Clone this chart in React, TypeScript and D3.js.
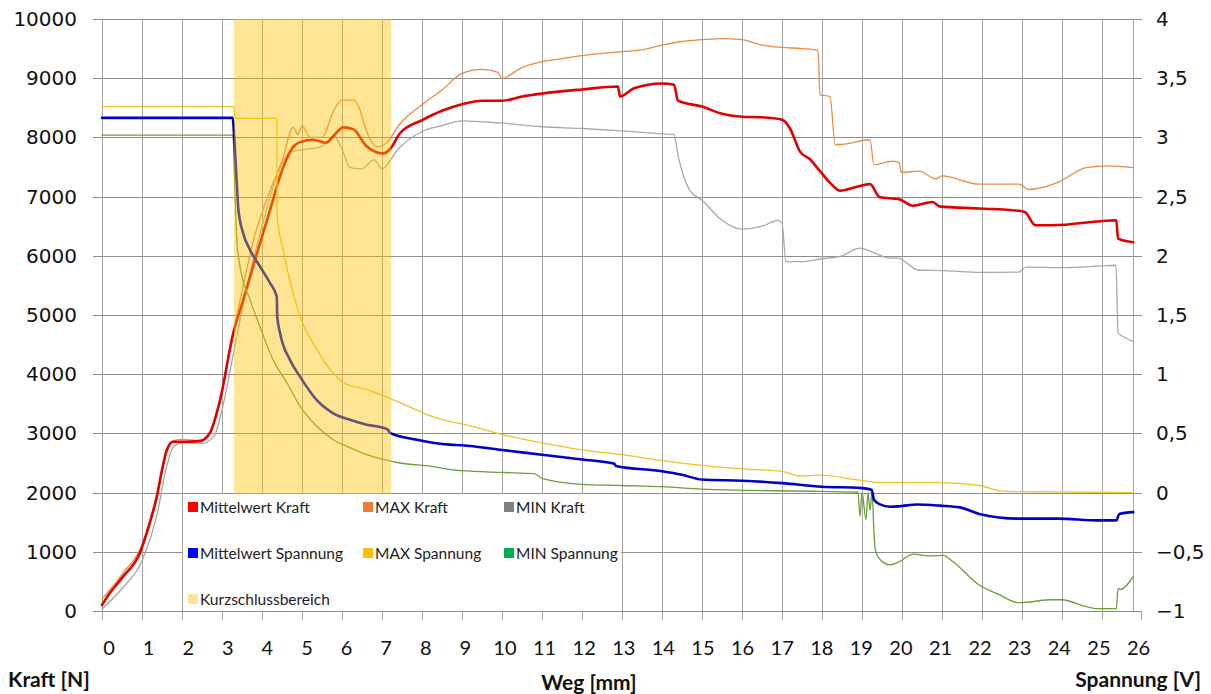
import React from "react";
import * as d3 from "d3";

type Pt = [number, number];

// Weg [mm] vs Kraft [N]
const mittelwertKraft: Pt[] = [
  [0, 100], [0.12, 230], [0.5, 560], [0.95, 985], [1.2, 1500], [1.37, 1930], [1.5, 2380], [1.62, 2720],
  [1.78, 2860], [2.03, 2860], [2.45, 2870], [2.7, 3010], [2.95, 3560], [3.28, 4690], [3.53, 5250],
  [3.9, 6100], [4.2, 6770], [4.5, 7440], [4.78, 7840], [4.95, 7920], [5.28, 7960], [5.6, 7910],
  [5.78, 8020], [6.03, 8170], [6.28, 8140], [6.6, 7860], [7.03, 7730], [7.2, 7800], [7.45, 8070],
  [8, 8290], [8.5, 8450], [9, 8560], [9.5, 8620], [10, 8620], [10.5, 8690], [11, 8740], [12, 8810],
  [12.9, 8860], [12.95, 8690], [13.3, 8830], [14, 8910], [14.3, 8890], [14.4, 8620], [15, 8520],
  [15.5, 8400], [16, 8350], [16.5, 8340], [17, 8300], [17.2, 8150], [17.45, 7760], [17.7, 7630],
  [17.95, 7430], [18.28, 7180], [18.45, 7100], [18.95, 7180], [19.2, 7210], [19.44, 6990],
  [19.93, 6955], [20.27, 6845], [20.77, 6910], [20.93, 6835], [21.93, 6800], [22.92, 6760],
  [23.08, 6735], [23.33, 6515], [23.75, 6515], [25.36, 6600], [25.4, 6290], [25.78, 6230],
];

const maxKraft: Pt[] = [
  [0, 200], [0.5, 620], [1, 1120], [1.4, 2050], [1.6, 2650], [1.8, 2880], [2, 2900], [2.4, 2880],
  [2.65, 2980], [2.9, 3400], [3.2, 4400], [3.5, 5400], [3.8, 6300], [4.2, 7100], [4.5, 7600],
  [4.78, 8170], [4.9, 8050], [5.0, 8200], [5.2, 8000], [5.5, 8000], [5.8, 8460], [6.0, 8630],
  [6.3, 8630], [6.45, 8460], [6.6, 8130], [6.9, 7840], [7.1, 7900], [7.45, 8230], [8, 8550],
  [8.5, 8800], [9, 9080], [9.5, 9150], [9.9, 9100], [10, 9000], [10.5, 9180], [11, 9280],
  [11.5, 9330], [12, 9380], [12.5, 9420], [13, 9450], [13.5, 9480], [14, 9560], [14.5, 9620],
  [15, 9650], [15.5, 9670], [16, 9650], [16.5, 9560], [17, 9520], [17.5, 9500], [17.9, 9470],
  [17.95, 8720], [18.2, 8690], [18.33, 7880], [18.45, 7880], [19.2, 7960], [19.3, 7540],
  [19.78, 7600], [19.93, 7570], [19.98, 7410], [20.43, 7430], [20.85, 7300], [21.0, 7350],
  [21.93, 7210], [22.92, 7210], [23.17, 7120], [23.9, 7240], [24.6, 7490], [25.15, 7520], [25.78, 7490],
];

const minKraft: Pt[] = [
  [0, 30], [0.5, 380], [1, 850], [1.4, 1700], [1.6, 2400], [1.8, 2780], [2, 2840], [2.5, 2830],
  [2.8, 2950], [3.0, 3400], [3.3, 4400], [3.6, 5400], [4.0, 6500], [4.4, 7400], [4.7, 7750],
  [5, 7790], [5.5, 7850], [5.8, 8020], [6.0, 7800], [6.2, 7490], [6.5, 7470], [6.8, 7620],
  [7.0, 7470], [7.4, 7800], [8, 8100], [8.5, 8200], [9, 8280], [10, 8240], [11, 8180], [12, 8150],
  [13, 8110], [14, 8060], [14.3, 8050], [14.4, 7700], [14.7, 7100], [15, 6940], [15.5, 6600],
  [16, 6450], [16.5, 6500], [16.9, 6600], [17.0, 6550], [17.1, 5900], [17.5, 5900], [18, 5950],
  [18.5, 6000], [18.94, 6130], [19.2, 6080], [19.7, 5960], [19.9, 5960], [20.4, 5760], [21, 5750],
  [22, 5720], [22.92, 5725], [23.1, 5810], [24, 5800], [25, 5830], [25.35, 5840], [25.4, 4700],
  [25.5, 4650], [25.78, 4550],
];

// Weg [mm] vs Spannung [V]
const mittelwertSpannung: Pt[] = [
  [0, 3.165], [3.27, 3.165], [3.3, 3.03], [3.37, 2.61], [3.41, 2.39], [3.53, 2.19], [3.7, 2.05],
  [3.95, 1.91], [4.2, 1.77], [4.37, 1.655], [4.38, 1.49], [4.45, 1.35], [4.7, 1.12], [4.95, 0.98],
  [5.37, 0.78], [5.78, 0.67], [6.2, 0.615], [6.62, 0.573], [7.03, 0.547], [7.15, 0.53], [7.2, 0.505],
  [7.87, 0.447], [8.7, 0.405], [9, 0.4], [10, 0.36], [11, 0.32], [12, 0.28], [12.8, 0.245],
  [12.85, 0.225], [14, 0.18], [14.5, 0.15], [15, 0.11], [16, 0.1], [17, 0.08], [18, 0.05],
  [18.95, 0.04], [19.24, 0.025], [19.3, -0.06], [19.45, -0.1], [19.7, -0.12], [19.95, -0.115],
  [20.37, -0.1], [20.95, -0.11], [21.45, -0.125], [21.93, -0.18], [22.92, -0.22], [23.9, -0.22],
  [24.9, -0.235], [25.36, -0.235], [25.43, -0.18], [25.78, -0.165],
];

const maxSpannung: Pt[] = [
  [0, 3.26], [3.3, 3.26], [3.33, 3.16], [4.37, 3.16], [4.38, 2.33], [4.53, 2.05], [4.78, 1.68],
  [4.95, 1.49], [5.37, 1.21], [5.78, 1.01], [6.03, 0.93], [6.62, 0.87], [6.87, 0.84], [7.45, 0.76],
  [8.28, 0.64], [8.7, 0.6], [9, 0.58], [10, 0.49], [11, 0.42], [12, 0.36], [13, 0.32], [14, 0.27],
  [15, 0.23], [16, 0.2], [17, 0.18], [17.45, 0.14], [17.95, 0.147], [18.94, 0.105], [19.44, 0.085],
  [20.93, 0.085], [21.93, 0.06], [22.42, 0.017], [22.92, 0.008], [25.78, 0],
];

const minSpannung: Pt[] = [
  [0, 3.02], [3.27, 3.02], [3.33, 2.47], [3.37, 2.13], [3.45, 1.91], [3.7, 1.63], [3.95, 1.4],
  [4.28, 1.12], [4.62, 0.93], [4.95, 0.73], [5.37, 0.56], [5.78, 0.447], [6.2, 0.38], [6.62, 0.32],
  [7.03, 0.28], [7.45, 0.25], [8.28, 0.22], [8.7, 0.194], [9, 0.185], [10, 0.17], [10.8, 0.16],
  [11, 0.12], [12, 0.07], [13, 0.06], [14, 0.05], [15, 0.03], [17.95, 0.01], [18.9, 0.003],
  [18.95, -0.2], [19.0, 0.0], [19.1, -0.23], [19.15, 0.0], [19.2, -0.15], [19.25, 0.0], [19.3, -0.34],
  [19.33, -0.48], [19.45, -0.565], [19.7, -0.61], [19.95, -0.58], [20.28, -0.52], [20.7, -0.535],
  [21.03, -0.53], [21.26, -0.58], [21.93, -0.78], [22.42, -0.86], [22.92, -0.93], [23.75, -0.905],
  [24.0, -0.905], [24.58, -0.96], [24.9, -0.98], [25.36, -0.98], [25.4, -0.81], [25.45, -0.82],
  [25.78, -0.71],
];

// Short-circuit zone [mm]
const kurzschlussbereich: [number, number] = [3.3, 7.23];

const wegTicks = d3.range(0, 27);
const kraftTicks = d3.range(0, 10001, 1000);
const spannungTicks = d3.range(-1, 4.01, 0.5);
const wegEnde = 25.78;

const legendItems = [
  { label: "Mittelwert Kraft", color: "#ff0000" },
  { label: "MAX Kraft", color: "#ed7d31" },
  { label: "MIN Kraft", color: "#7f7f7f" },
  { label: "Mittelwert Spannung", color: "#0000ff" },
  { label: "MAX Spannung", color: "#ffc000" },
  { label: "MIN Spannung", color: "#00b050" },
  { label: "Kurzschlussbereich", color: "#fde39c" },
];

const W = 1211;
const H = 694;

export default function App() {
  const x = d3.scaleLinear().domain([0, 26]).range([102, 1142]);
  const xLabel = d3.scaleLinear().domain([0, 26]).range([109, 1138.5]);
  const yK = d3.scaleLinear().domain([0, 10000]).range([611, 19]);
  const yV = d3.scaleLinear().domain([-1, 4]).range([611, 19]);

  const lineK = d3.line<Pt>().x((d) => x(d[0])).y((d) => yK(d[1])).curve(d3.curveMonotoneX);
  const lineV = d3.line<Pt>().x((d) => x(d[0])).y((d) => yV(d[1])).curve(d3.curveMonotoneX);

  const series = [
    { d: lineK(minKraft), color: "#a8a8a8", w: 1.3 },
    { d: lineK(maxKraft), color: "#ec8a45", w: 1.3 },
    { d: lineK(mittelwertKraft), color: "#e00000", w: 2.6 },
    { d: lineV(minSpannung), color: "#6e9e3e", w: 1.3 },
    { d: lineV(maxSpannung), color: "#f2c027", w: 1.3 },
    { d: lineV(mittelwertSpannung), color: "#0000c4", w: 2.6 },
  ];

  const left = x(0);
  const right = x(26);
  const plotRight = x(wegEnde);
  const top = yK(10000);
  const bottom = yK(0);

  const legendX = [188, 363, 504];
  const legendY = [507, 553, 599];

  return (
    <svg
      width={W}
      height={H}
      viewBox={`0 0 ${W} ${H}`}
      style={{ position: "absolute", left: 0, top: 0, background: "#fff" }}
    >
      <rect x={0} y={0} width={W} height={H} fill="#fff" />

      {/* gridlines, with tick stubs outside the plot */}
      <g shapeRendering="crispEdges">
        {kraftTicks.map((t) => (
          <line key={"h" + t} x1={left - 9} x2={right} y1={Math.round(yK(t)) + 0.5} y2={Math.round(yK(t)) + 0.5} stroke="#8c8c8c" strokeWidth={1} />
        ))}
        {wegTicks.slice(0, 26).map((t) => (
          <line key={"v" + t} x1={Math.round(x(t)) + 0.5} x2={Math.round(x(t)) + 0.5} y1={top} y2={bottom + 9} stroke="#a6a6a6" strokeWidth={1.2} />
        ))}
        <line x1={Math.round(x(26)) - 0.5} x2={Math.round(x(26)) - 0.5} y1={bottom} y2={bottom + 9} stroke="#a6a6a6" />
        <line x1={Math.round(plotRight) + 0.5} x2={Math.round(plotRight) + 0.5} y1={top} y2={bottom} stroke="#a6a6a6" strokeWidth={1.2} />
      </g>

      {/* series */}
      <g fill="none" strokeLinejoin="round" strokeLinecap="round">
        {series.map((s, i) => (
          <path key={i} d={s.d ?? ""} stroke={s.color} strokeWidth={s.w} />
        ))}
      </g>

      {/* short-circuit zone, translucent over the curves */}
      <rect
        x={x(kurzschlussbereich[0])}
        y={top}
        width={x(kurzschlussbereich[1]) - x(kurzschlussbereich[0])}
        height={bottom - top}
        fill="#ffc000"
        opacity={0.42}
      />

      {/* legend */}
      <rect x={183} y={Math.round(yK(2000)) + 1} width={438} height={Math.round(yK(0)) - Math.round(yK(2000)) - 1} fill="#fff" />
      <g fontFamily="Lato, 'Open Sans', sans-serif" fontSize={15.5} fill="#222">
        {legendItems.map((it, i) => {
          const cx = legendX[i % 3];
          const cy = legendY[Math.floor(i / 3)];
          return (
            <g key={it.label}>
              <rect x={cx} y={cy - 5} width={10} height={10} fill={it.color} />
              <text x={cx + 12} y={cy} dominantBaseline="central">{it.label}</text>
            </g>
          );
        })}
      </g>

      {/* value axis labels */}
      <g fontFamily="'DejaVu Sans', Verdana, sans-serif" fontSize={20} fill="#111">
        {kraftTicks.map((t) => (
          <text key={"l" + t} x={77} y={yK(t)} textAnchor="end" dominantBaseline="central">{t}</text>
        ))}
        {spannungTicks.map((t) => (
          <text key={"r" + t} x={1156} y={yV(t)} textAnchor="start" dominantBaseline="central">
            {d3.format("")(Math.round(t * 10) / 10).replace(".", ",")}
          </text>
        ))}
      </g>

      {/* distance axis labels */}
      <g fontFamily="Lato, 'Open Sans', sans-serif" fontSize={20} fill="#111">
        {wegTicks.map((t) => (
          <text key={"b" + t} x={xLabel(t)} y={647} textAnchor="middle" dominantBaseline="central">{t}</text>
        ))}
      </g>

      {/* axis titles */}
      <g fontFamily="Lato, 'Open Sans', sans-serif" fontSize={21} fontWeight={700} fill="#111">
        <text x={8} y={678} dominantBaseline="central">Kraft [N]</text>
        <text x={589} y={681} textAnchor="middle" dominantBaseline="central">Weg [mm]</text>
        <text x={1201} y={678} textAnchor="end" dominantBaseline="central">Spannung [V]</text>
      </g>
    </svg>
  );
}
